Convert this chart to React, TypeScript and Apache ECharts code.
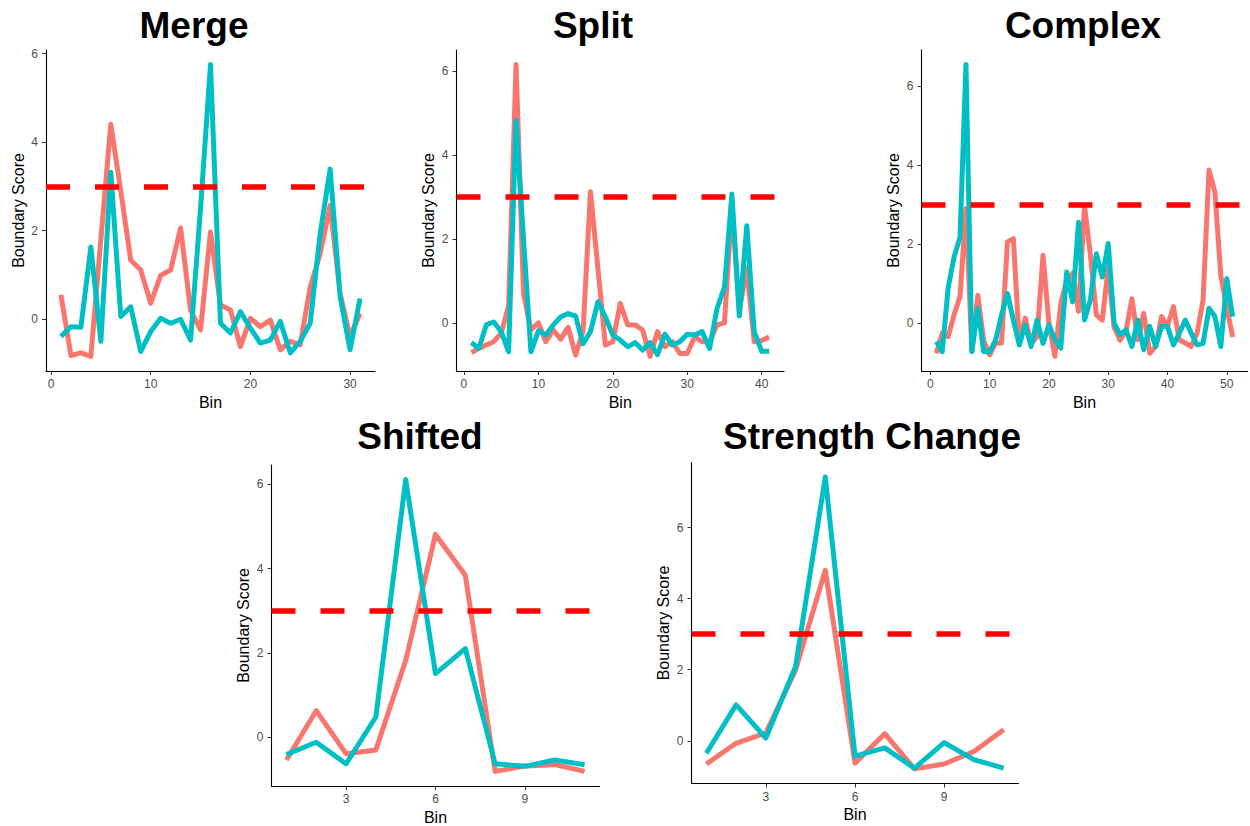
import React, { useEffect, useRef } from 'react';
import * as echarts from 'echarts';

const FONT = '"Liberation Sans", Arial, Helvetica, sans-serif';
const RED = '#F8766D';
const TEAL = '#00BFC4';
const THRESHOLD = 3;

const mergeRed = [0.55, -0.82, -0.76, -0.84, 1.8, 4.4, 2.9, 1.33, 1.11, 0.36, 0.99, 1.11, 2.06, 0.2, -0.24, 1.97, 0.32, 0.21, -0.62, 0.02, -0.17, -0.02, -0.69, -0.5, -0.58, 0.73, 1.48, 2.57, 0.58, -0.39, 0.13];
const mergeTeal = [-0.39, -0.17, -0.18, 1.63, -0.5, 3.32, 0.06, 0.28, -0.73, -0.28, 0.02, -0.09, 0.0, -0.47, 2.5, 5.75, -0.09, -0.31, 0.17, -0.2, -0.54, -0.47, -0.05, -0.76, -0.5, -0.09, 1.93, 3.39, 0.51, -0.69, 0.47];

const splitRed = [-0.71, -0.61, -0.53, -0.45, -0.25, 0.4, 6.15, 0.7, -0.17, 0.0, -0.45, -0.17, -0.39, -0.11, -0.77, -0.2, 3.12, 1.3, -0.53, -0.45, 0.46, -0.05, -0.05, -0.17, -0.8, -0.21, -0.57, -0.45, -0.73, -0.73, -0.33, -0.45, -0.45, -0.05, 0.0, 2.8, 0.3, 1.3, -0.45, -0.42, -0.34];
const splitTeal = [-0.47, -0.61, -0.05, 0.02, -0.21, -0.69, 4.82, 2.0, -0.69, -0.19, -0.29, -0.05, 0.14, 0.22, 0.16, -0.5, -0.21, 0.5, 0.14, -0.29, -0.41, -0.57, -0.47, -0.65, -0.47, -0.76, -0.27, -0.53, -0.45, -0.27, -0.29, -0.21, -0.61, 0.34, 0.85, 3.07, 0.16, 2.31, -0.21, -0.68, -0.68];

const complexRed = [-0.76, -0.25, -0.34, 0.22, 0.67, 2.9, -0.7, 0.71, -0.45, -0.8, -0.5, -0.5, 2.06, 2.14, -0.48, 0.13, -0.52, -0.34, 1.72, 0.0, -0.84, 0.5, 1.1, 1.26, 0.3, 2.98, 1.72, 0.21, 0.08, 1.4, -0.1, -0.43, -0.2, 0.62, -0.42, 0.25, -0.76, -0.59, 0.17, -0.08, 0.42, -0.42, -0.5, -0.59, -0.25, 0.58, 3.88, 3.32, 1.2, 0.4, -0.35];
const complexTeal = [-0.46, -0.72, 0.9, 1.68, 2.18, 6.55, -0.72, 0.38, -0.72, -0.72, -0.43, 0.21, 0.75, 0.08, -0.55, -0.04, -0.59, 0.08, -0.51, -0.04, -0.42, -0.63, 1.3, 0.54, 2.56, 0.08, 0.6, 1.76, 1.17, 2.02, 0.0, -0.29, -0.17, -0.59, 0.08, -0.67, -0.08, -0.59, -0.08, -0.08, -0.55, -0.25, 0.08, -0.25, -0.55, -0.51, 0.38, 0.17, -0.59, 1.13, 0.17];

const shiftedRed = [-0.54, 0.63, -0.39, -0.3, 1.82, 4.81, 3.84, -0.81, -0.68, -0.65, -0.81];
const shiftedTeal = [-0.41, -0.12, -0.63, 0.48, 6.11, 1.51, 2.1, -0.63, -0.69, -0.54, -0.65];

const strengthRed = [-0.65, -0.07, 0.22, 1.99, 4.8, -0.63, 0.2, -0.79, -0.65, -0.3, 0.31];
const strengthTeal = [-0.35, 1.01, 0.08, 2.09, 7.42, -0.43, -0.2, -0.77, -0.05, -0.53, -0.77];

const titles = ['Merge', 'Split', 'Complex', 'Shifted', 'Strength Change'];
const xTickSets = [
  [0, 10, 20, 30],
  [0, 10, 20, 30, 40],
  [0, 10, 20, 30, 40, 50],
  [3, 6, 9],
  [3, 6, 9],
];
const yTicks = [0, 2, 4, 6];
const xAxisTitle = 'Bin';
const yAxisTitle = 'Boundary Score';

const panelData = [
  { red: mergeRed, teal: mergeTeal },
  { red: splitRed, teal: splitTeal },
  { red: complexRed, teal: complexTeal },
  { red: shiftedRed, teal: shiftedTeal },
  { red: strengthRed, teal: strengthTeal },
];

// layout (pixel positions of each panel)
const layout = [
  { left: 46, top: 50, width: 329, height: 321, tx: 194, ty: 25 },
  { left: 456.5, top: 50, width: 327.5, height: 321, tx: 593, ty: 25 },
  { left: 921.5, top: 50, width: 326, height: 321, tx: 1083, ty: 25 },
  { left: 271.5, top: 465, width: 328, height: 321, tx: 420, ty: 436 },
  { left: 691.5, top: 462.5, width: 327, height: 321, tx: 872, ty: 436 },
];

function buildOption() {
  const grid: any[] = [];
  const xAxis: any[] = [];
  const yAxis: any[] = [];
  const series: any[] = [];
  const graphic: any[] = [];

  panelData.forEach((p, i) => {
    const L = layout[i];
    const n = p.red.length;
    const xPad = 0.05 * (n - 1);
    const all = [...p.red, ...p.teal, THRESHOLD];
    const lo = Math.min(...all);
    const hi = Math.max(...all);
    const yPad = 0.05 * (hi - lo);

    grid.push({
      left: L.left,
      top: L.top,
      width: L.width,
      height: L.height,
      containLabel: false,
      outerBoundsMode: 'none',
    });

    xAxis.push({
      type: 'value',
      gridIndex: i,
      min: 1 - xPad,
      max: n + xPad,
      name: xAxisTitle,
      nameLocation: 'middle',
      nameGap: 23,
      nameTextStyle: { fontSize: 16, color: '#000', fontFamily: FONT },
      axisLine: { show: true, onZero: false, lineStyle: { color: '#000', width: 1.1 } },
      axisTick: { show: true, length: 4, customValues: xTickSets[i], lineStyle: { color: '#333', width: 1 } },
      axisLabel: { customValues: xTickSets[i], fontSize: 12, color: '#4D4D4D', margin: 7, fontFamily: FONT },
      splitLine: { show: false },
    });

    yAxis.push({
      type: 'value',
      gridIndex: i,
      min: lo - yPad,
      max: hi + yPad,
      name: yAxisTitle,
      nameLocation: 'middle',
      nameRotate: 90,
      nameGap: 20,
      nameTextStyle: { fontSize: 16, color: '#000', fontFamily: FONT },
      axisLine: { show: true, onZero: false, lineStyle: { color: '#000', width: 1.1 } },
      axisTick: { show: true, length: 4, customValues: yTicks, lineStyle: { color: '#333', width: 1 } },
      axisLabel: { customValues: yTicks, fontSize: 12, color: '#4D4D4D', margin: 8, fontFamily: FONT },
      splitLine: { show: false },
    });

    series.push({
      type: 'line',
      xAxisIndex: i,
      yAxisIndex: i,
      data: p.red.map((v, k) => [k + 1, v]),
      showSymbol: false,
      symbol: 'none',
      silent: true,
      z: 2,
      lineStyle: { color: RED, width: 5, join: 'round', cap: 'butt' },
    });
    series.push({
      type: 'line',
      xAxisIndex: i,
      yAxisIndex: i,
      data: p.teal.map((v, k) => [k + 1, v]),
      showSymbol: false,
      symbol: 'none',
      silent: true,
      z: 3,
      lineStyle: { color: TEAL, width: 5, join: 'round', cap: 'butt' },
      markLine: {
        silent: true,
        symbol: ['none', 'none'],
        label: { show: false },
        z: 6,
        lineStyle: { color: '#FF0000', width: 5.5, type: [24, 25], cap: 'butt' },
        emphasis: { disabled: true },
        data: [{ yAxis: THRESHOLD }],
      },
    });

    graphic.push({
      type: 'text',
      x: L.tx,
      y: L.ty,
      style: {
        text: titles[i],
        fill: '#000',
        fontSize: 37,
        fontWeight: 'bold',
        fontFamily: FONT,
        textAlign: 'center',
        textVerticalAlign: 'middle',
        align: 'center',
        verticalAlign: 'middle',
      },
    });
  });

  return {
    animation: false,
    backgroundColor: '#FFFFFF',
    grid,
    xAxis,
    yAxis,
    series,
    graphic,
  };
}

export default function App() {
  const ref = useRef<HTMLDivElement | null>(null);
  useEffect(() => {
    if (!ref.current) return;
    const chart = echarts.init(ref.current, undefined, { renderer: 'svg' });
    chart.setOption(buildOption() as any);
    return () => {
      chart.dispose();
    };
  }, []);
  return (
    <div
      ref={ref}
      style={{ position: 'absolute', left: 0, top: 0, width: 1250, height: 826, background: '#fff' }}
    />
  );
}
